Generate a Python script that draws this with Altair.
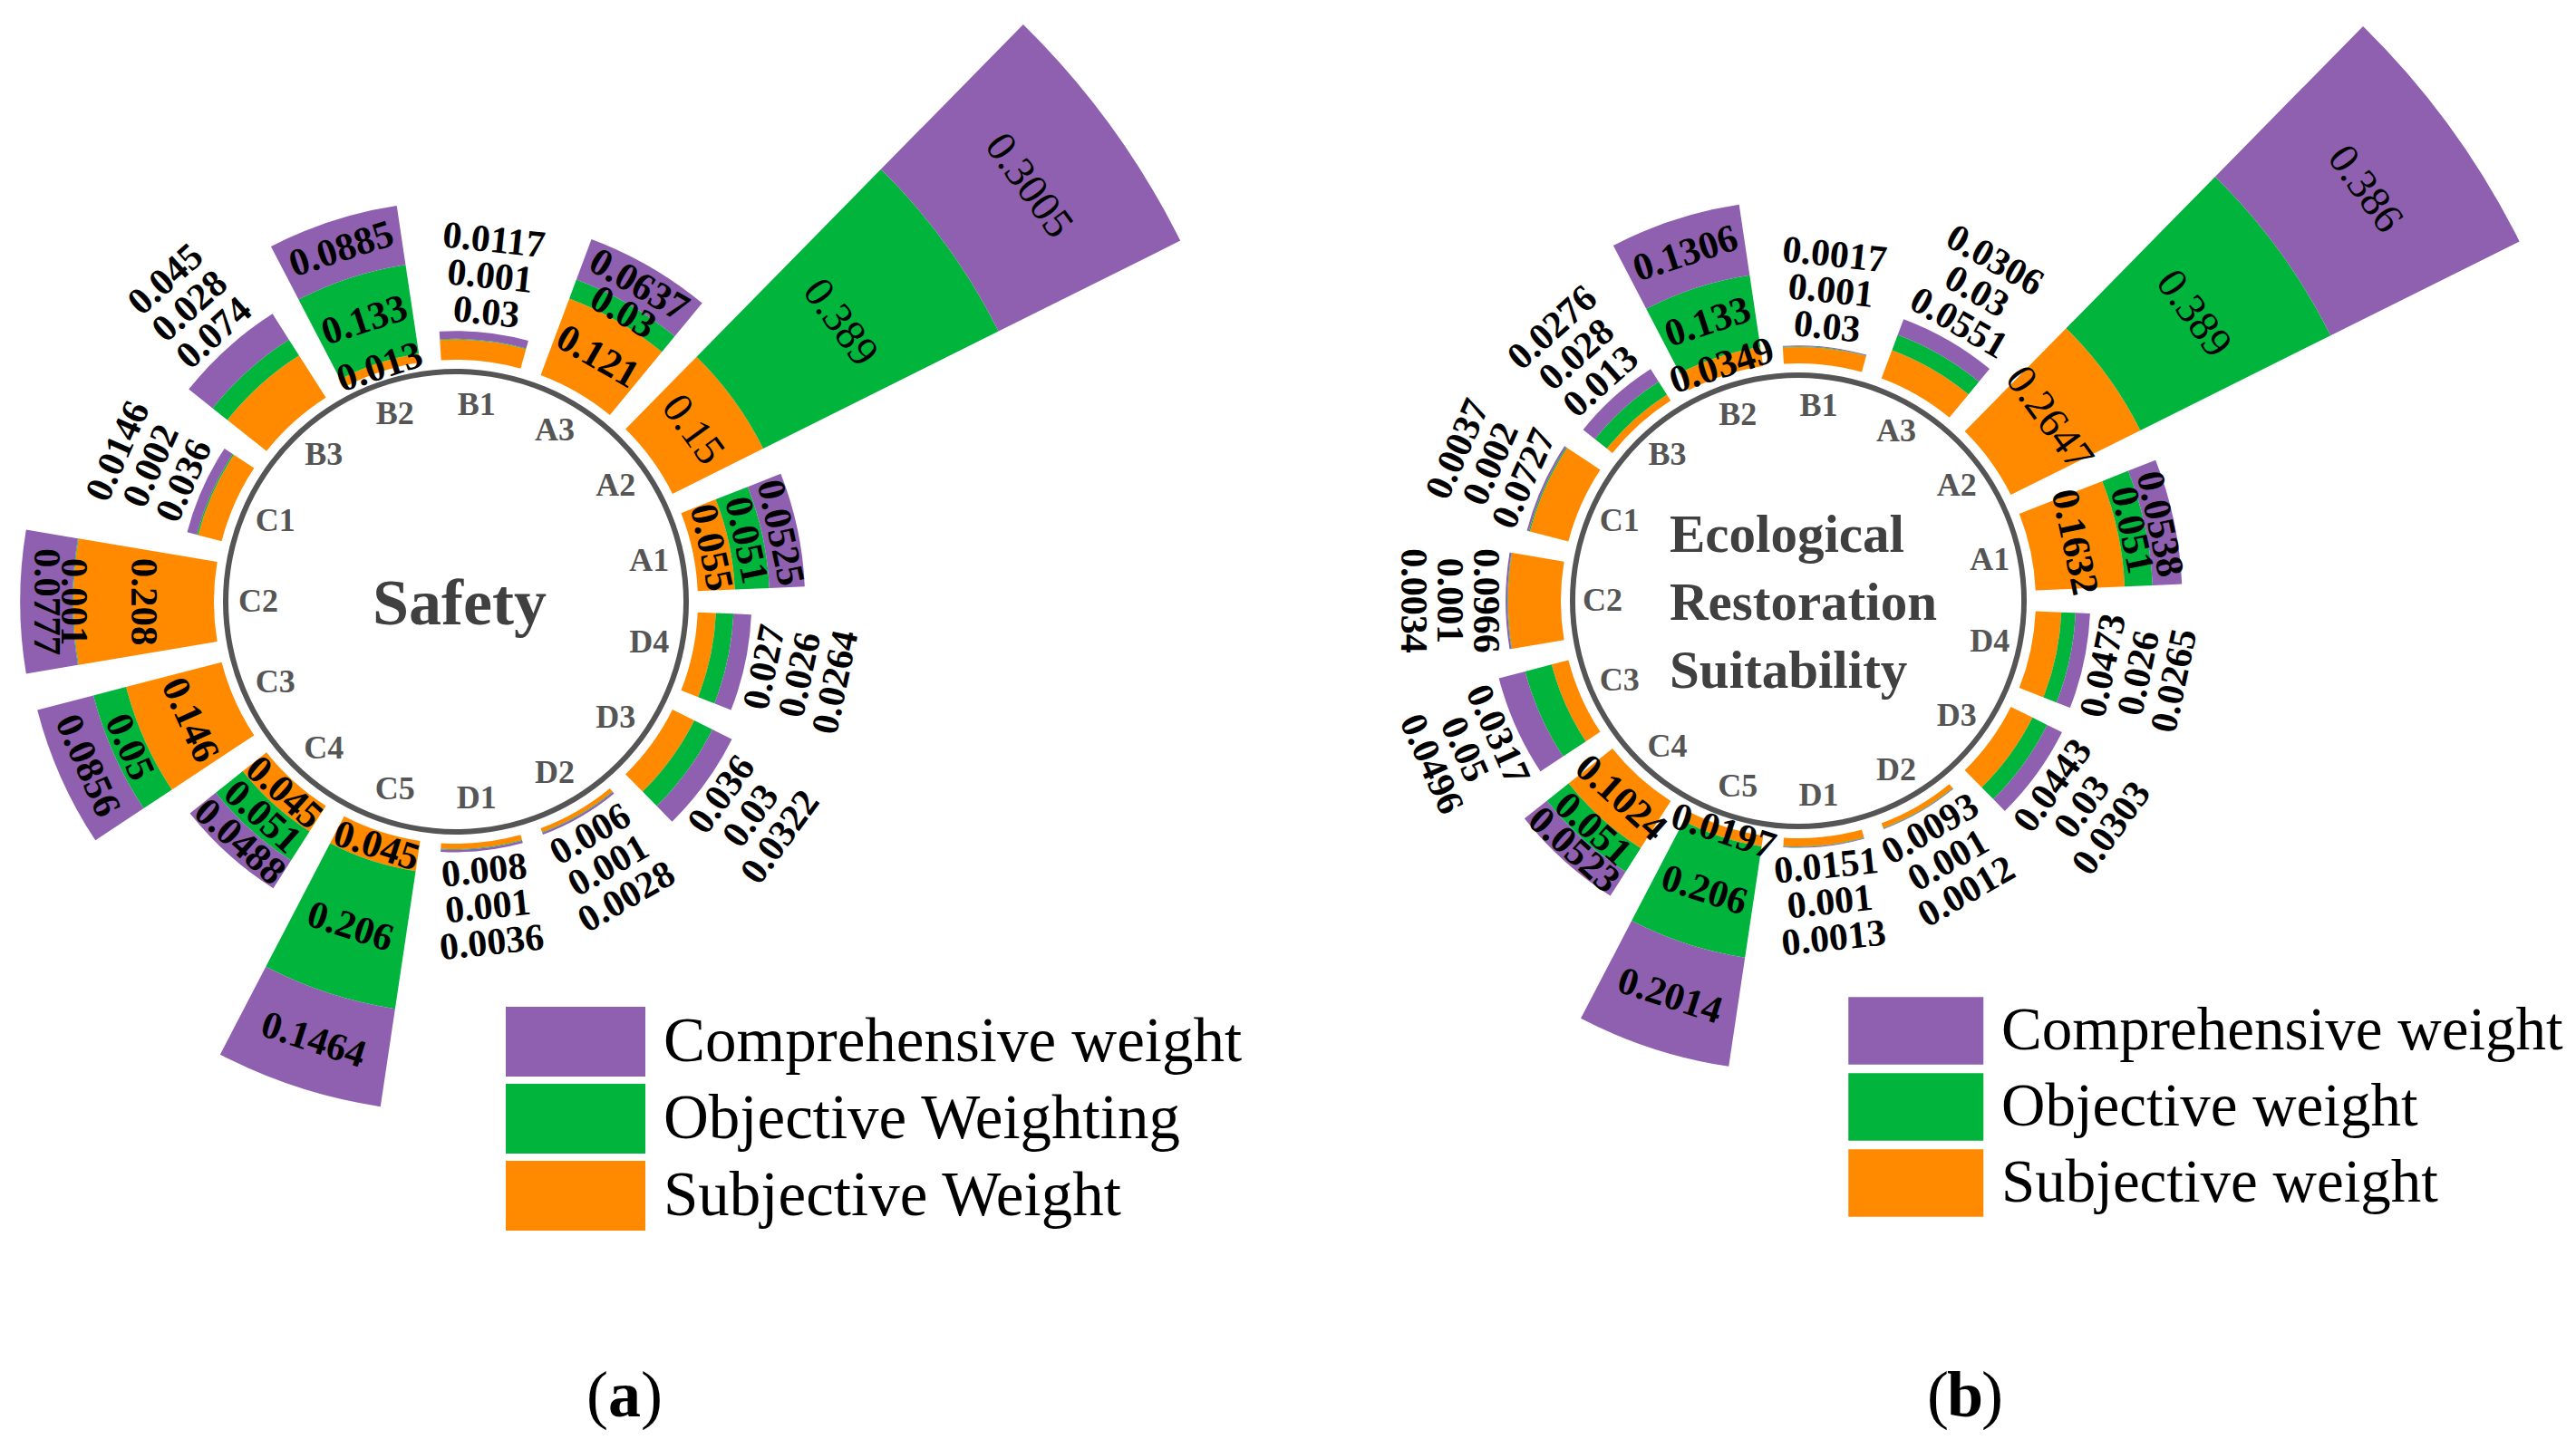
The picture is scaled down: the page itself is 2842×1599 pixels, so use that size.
import math
import altair as alt
import pandas as pd

# ---------------- data ----------------
categories = ["B1", "A3", "A2", "A1", "D4", "D3", "D2", "D1",
              "C5", "C4", "C3", "C2", "C1", "B3", "B2"]

weight_names_a = ["Comprehensive weight", "Objective Weighting", "Subjective Weight"]
weight_names_b = ["Comprehensive weight", "Objective weight", "Subjective weight"]

safety_subjective = [0.03, 0.121, 0.15, 0.055, 0.027, 0.036, 0.006, 0.008,
                     0.045, 0.045, 0.146, 0.208, 0.036, 0.074, 0.013]
safety_objective = [0.001, 0.03, 0.389, 0.051, 0.026, 0.03, 0.001, 0.001,
                    0.206, 0.051, 0.05, 0.001, 0.002, 0.028, 0.133]
safety_comprehensive = [0.0117, 0.0637, 0.3005, 0.0525, 0.0264, 0.0322, 0.0028, 0.0036,
                        0.1464, 0.0488, 0.0856, 0.0777, 0.0146, 0.045, 0.0885]

eco_subjective = [0.03, 0.0551, 0.2647, 0.1632, 0.0473, 0.0443, 0.0093, 0.0151,
                  0.0197, 0.1024, 0.0317, 0.0966, 0.0727, 0.013, 0.0349]
eco_objective = [0.001, 0.03, 0.389, 0.051, 0.026, 0.03, 0.001, 0.001,
                 0.206, 0.051, 0.05, 0.001, 0.002, 0.028, 0.133]
eco_comprehensive = [0.0017, 0.0306, 0.386, 0.0538, 0.0265, 0.0303, 0.0012, 0.0013,
                     0.2014, 0.0523, 0.0496, 0.0034, 0.0037, 0.0276, 0.1306]

# categories whose value labels sit inside the bars
labels_inside_a = ["A3", "A2", "A1", "C5", "C4", "C3", "C2", "B2"]
labels_inside_b = ["A2", "A1", "C5", "C4", "B2"]

# ---------------- style ----------------
SERIF = "Liberation Serif"
COLORS = ["#8E60AF", "#00B43C", "#FF8A00"]  # comprehensive, objective, subjective
THETA = alt.Scale(domain=[-0.25, 14.75], range=[0, 2 * math.pi])


def build_panel(sub, obj, comp, names, inside, cx, cy, ring_r, r_in, r_out,
                label_r, legend_x, legend_y, sym_w, legend_font, row_pad,
                centre_layers, cap_letter, cap_x, cap_y):
    rows = []
    for i, cat in enumerate(categories):
        for k, vals in enumerate([sub, obj, comp]):
            rows.append(dict(cat=cat, idx=i, layer=k, type=names[2 - k],
                             value=vals[i], inside=cat in inside))
    df = pd.DataFrame(rows)

    rscale = alt.Scale(type="linear", zero=True, range=[r_in, r_out])
    pos = dict(x=alt.value(cx), y=alt.value(cy))

    base = (
        alt.Chart(df)
        .transform_window(r1="sum(value)", groupby=["cat"],
                          sort=[alt.SortField("layer")], frame=[None, 0])
        .transform_joinaggregate(total="sum(value)", groupby=["cat"])
        .transform_calculate(
            r0="datum.r1 - datum.value",
            rm="datum.r1 - datum.value / 2",
            t0="datum.idx - 0.396",
            t1="datum.idx + 0.396",
            deg="(datum.idx + 0.25) * 24",
        )
        .transform_calculate(
            ang="((datum.deg <= 90 ? datum.deg : (datum.deg <= 270 ? datum.deg - 180 : datum.deg - 360)) + 360) % 360"
        )
    )

    sym_h = sym_w / 2.0
    legend = alt.Legend(
        orient="none", legendX=legend_x, legendY=legend_y,
        symbolType="M-2,-1H2V1H-2Z", symbolSize=sym_h * sym_h,
        symbolOffset=sym_h / 2.0,
        symbolStrokeWidth=0, symbolOpacity=1,
        labelFont=SERIF, labelFontSize=legend_font, labelColor="black",
        labelOffset=sym_w - math.ceil(sym_h) + 20 - sym_h / 2.0, labelLimit=2000,
        rowPadding=row_pad, padding=0,
    )

    bars = base.mark_arc().encode(
        theta=alt.Theta("t0:Q", stack=False, scale=THETA),
        theta2="t1:Q",
        radius=alt.Radius("r1:Q", stack=False, scale=rscale),
        radius2="r0:Q",
        color=alt.Color("type:N", title=None,
                        scale=alt.Scale(domain=names, range=COLORS),
                        legend=legend),
        **pos,
    )

    ring = alt.Chart(pd.DataFrame({"r": [0]})).mark_arc(
        radius=ring_r + 3, radius2=ring_r - 3, theta=0, theta2=2 * math.pi,
        color="#555555",
    ).encode(**pos)

    catlab = alt.Chart(pd.DataFrame({"cat": categories, "idx": list(range(len(categories)))})).mark_text(
        font=SERIF, fontWeight="bold", fontSize=36, color="#555555",
        align="center", baseline="middle",
    ).encode(
        theta=alt.Theta("idx:Q", stack=False, scale=THETA),
        radius=alt.value(label_r),
        text="cat:N",
        **pos,
    )

    def vtext(filt, size, weight, rfield, roff=0):
        return base.transform_filter(filt).mark_text(
            font=SERIF, fontSize=size, fontWeight=weight, color="black",
            align="center", baseline="middle", radiusOffset=roff,
        ).encode(
            theta=alt.Theta("idx:Q", stack=False, scale=THETA),
            radius=alt.Radius(f"{rfield}:Q", stack=False, scale=rscale),
            text=alt.Text("value:Q", format="~g"),
            angle=alt.Angle("ang:Q", scale=None),
            **pos,
        )

    texts = [
        vtext("datum.inside && datum.cat != 'A2'", 43, "bold", "rm"),
        vtext("datum.inside && datum.cat == 'A2'", 47, "normal", "rm"),
    ]
    for k, off in enumerate([22, 62, 102]):
        texts.append(vtext(f"!datum.inside && datum.layer == {k}", 42, "bold", "total", off))

    cap_df = pd.DataFrame({"t": [cap_letter]})
    cap_open = alt.Chart(cap_df).mark_text(
        font=SERIF, fontSize=72, color="black", align="right", baseline="middle"
    ).encode(text=alt.value("("), x=alt.value(cap_x - 18), y=alt.value(cap_y))
    cap_close = alt.Chart(cap_df).mark_text(
        font=SERIF, fontSize=72, color="black", align="left", baseline="middle"
    ).encode(text=alt.value(")"), x=alt.value(cap_x + 18), y=alt.value(cap_y))
    cap_letter_mark = alt.Chart(cap_df).mark_text(
        font=SERIF, fontSize=72, fontWeight="bold", color="black", align="center", baseline="middle"
    ).encode(text="t:N", x=alt.value(cap_x), y=alt.value(cap_y))

    return alt.layer(bars, ring, catlab, *texts, *centre_layers,
                     cap_open, cap_letter_mark, cap_close)


centre_a = [
    alt.Chart(pd.DataFrame({"t": ["Safety"]})).mark_text(
        font=SERIF, fontWeight="bold", fontSize=72, color="#404040",
        align="center", baseline="middle",
    ).encode(text="t:N", x=alt.value(499), y=alt.value(659))
]
centre_b = [
    alt.Chart(pd.DataFrame({"t": ["Ecological\nRestoration\nSuitability"]})).mark_text(
        font=SERIF, fontWeight="bold", fontSize=59, color="#404040",
        align="left", baseline="middle", lineBreak="\n", lineHeight=75,
    ).encode(text="t:N", x=alt.value(1834), y=alt.value(583))
]

panel_a = build_panel(safety_subjective, safety_objective, safety_comprehensive,
                      weight_names_a, labels_inside_a,
                      cx=495, cy=656, ring_r=254, r_in=267, r_out=893, label_r=218,
                      legend_x=550, legend_y=1103, sym_w=154, legend_font=69, row_pad=8,
                      centre_layers=centre_a, cap_letter="a", cap_x=681, cap_y=1533)

panel_b = build_panel(eco_subjective, eco_objective, eco_comprehensive,
                      weight_names_b, labels_inside_b,
                      cx=1976, cy=655, ring_r=249, r_in=262, r_out=889, label_r=216,
                      legend_x=2031, legend_y=1092, sym_w=149, legend_font=67, row_pad=9,
                      centre_layers=centre_b, cap_letter="b", cap_x=2160, cap_y=1533)

chart = (
    alt.layer(panel_a, panel_b)
    .resolve_scale(radius="independent", color="independent")
    .properties(width=2826, height=1583, padding=0,
                autosize=alt.AutoSizeParams(type="none"))
    .configure_view(strokeWidth=0)
)

chart.save("out.html", embed_options={"renderer": "svg", "actions": False})
